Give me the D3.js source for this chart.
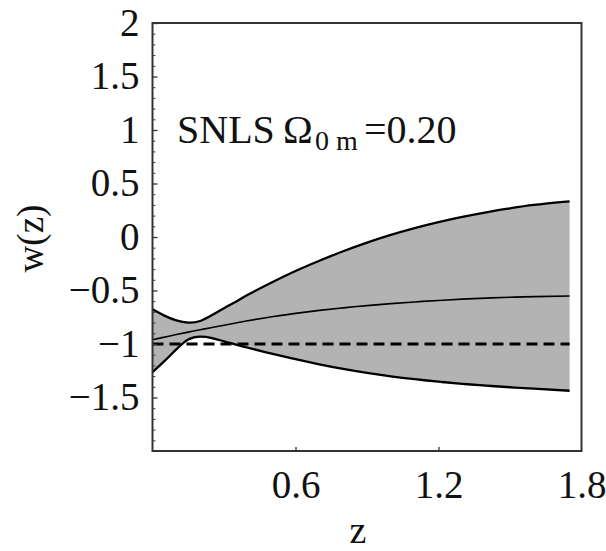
<!DOCTYPE html>
<html>
<head>
<meta charset="utf-8">
<script src="https://cdn.jsdelivr.net/npm/d3@7"></script>
<style>
  html, body { margin: 0; padding: 0; background: #fff; }
  svg { display: block; }
  text { font-family: "Liberation Serif", "Times New Roman", serif; fill: #111; }
</style>
</head>
<body>
<svg id="chart" width="606" height="551"></svg>
<script>
// ---- data ----
const zValues = [0, 0.05, 0.1, 0.15, 0.2, 0.25, 0.3, 0.35, 0.4, 0.5, 0.6, 0.7, 0.8, 0.9, 1.0, 1.1, 1.2, 1.3, 1.4, 1.5, 1.6, 1.75];
const wUpper  = [-0.676, -0.735, -0.78, -0.80, -0.785, -0.73, -0.665, -0.605, -0.54, -0.425, -0.318, -0.222, -0.133, -0.052, 0.020, 0.083, 0.139, 0.188, 0.231, 0.268, 0.300, 0.333];
const wBest   = [-0.960, -0.936, -0.912, -0.889, -0.867, -0.846, -0.825, -0.803, -0.782, -0.746, -0.714, -0.686, -0.662, -0.641, -0.623, -0.607, -0.593, -0.581, -0.571, -0.563, -0.557, -0.551];
const wLower  = [-1.262, -1.16, -1.05, -0.958, -0.932, -0.945, -0.975, -1.005, -1.035, -1.09, -1.142, -1.19, -1.233, -1.27, -1.302, -1.329, -1.352, -1.372, -1.389, -1.404, -1.418, -1.437];
const wLambda = -1;
const yTickValues = [-1.5, -1, -0.5, 0, 0.5, 1, 1.5, 2];
const xTickValues = [0.6, 1.2, 1.8];
const xDomain = [0, 1.8];
const yDomain = [-2, 2];
const labelTitle = "SNLS";
const labelOmega = "Ω";
const labelSub = "0 m";
const labelValue = "=0.20";
const xLabel = "z";
const yLabel = "w(z)";

// ---- layout ----
const svg = d3.select("#chart");
const L = 152.5, R = 581.5, T = 23, B = 451;
const x = d3.scaleLinear().domain(xDomain).range([L, R]);
const y = d3.scaleLinear().domain(yDomain).range([B, T]);

const rows = zValues.map((z, i) => ({ z, up: wUpper[i], mid: wBest[i], lo: wLower[i] }));
const curve = d3.curveNatural;

// band
svg.append("path")
  .datum(rows)
  .attr("fill", "#b3b3b3")
  .attr("d", d3.area().curve(curve).x(d => x(d.z)).y0(d => y(d.lo)).y1(d => y(d.up)));

// bounds
const lineGen = key => d3.line().curve(curve).x(d => x(d.z)).y(d => y(d[key]));
svg.append("path").datum(rows).attr("fill", "none").attr("stroke", "#000").attr("stroke-width", 2.3).attr("d", lineGen("up"));
svg.append("path").datum(rows).attr("fill", "none").attr("stroke", "#000").attr("stroke-width", 2.3).attr("d", lineGen("lo"));
svg.append("path").datum(rows).attr("fill", "none").attr("stroke", "#000").attr("stroke-width", 1.6).attr("d", lineGen("mid"));

// LCDM dashed line
svg.append("line")
  .attr("x1", x(zValues[0])).attr("x2", x(zValues[zValues.length - 1]))
  .attr("y1", y(wLambda)).attr("y2", y(wLambda))
  .attr("stroke", "#000").attr("stroke-width", 3).attr("stroke-dasharray", "11,6");

// axes
const fmt = d => (d < 0 ? "\u2212" : "") + Math.abs(d);
const yAxis = svg.append("g").attr("transform", `translate(${L},0)`)
  .call(d3.axisLeft(y).tickValues(yTickValues).tickFormat(fmt).tickSize(-5).tickPadding(13));
const minorVals = d3.range(-20, 21).map(v => v / 10).filter(v => Math.abs(v * 2 - Math.round(v * 2)) > 1e-6);
svg.append("g").attr("transform", `translate(${L},0)`)
  .call(d3.axisLeft(y).tickValues(minorVals).tickFormat("").tickSize(-3))
  .call(g => g.select(".domain").remove())
  .call(g => g.selectAll(".tick line").attr("stroke", "#444"));

const xAxis = svg.append("g").attr("transform", `translate(0,${B})`)
  .call(d3.axisBottom(x).tickValues(xTickValues).tickFormat(d => d.toFixed(1)).tickSize(-4).tickPadding(19));

[yAxis, xAxis].forEach(g => {
  g.select(".domain").remove();
  g.selectAll(".tick line").attr("stroke", "#333").attr("stroke-width", 1.3);
  g.selectAll("text").style("font-family", '"Liberation Serif", serif').style("font-size", "39px").attr("fill", "#111");
});
xAxis.selectAll(".tick").filter(d => d === 1.8).select("line").remove();

// frame
svg.append("rect")
  .attr("x", L).attr("y", T).attr("width", R - L).attr("height", B - T)
  .attr("fill", "none").attr("stroke", "#333").attr("stroke-width", 2);

// axis labels
svg.append("text")
  .attr("x", x(0.9) - 9).attr("y", 543)
  .attr("text-anchor", "middle")
  .style("font-size", "38px")
  .text(xLabel);
svg.append("text")
  .attr("transform", "translate(43,238.5) rotate(-90)")
  .attr("text-anchor", "middle")
  .style("font-size", "37px")
  .text(yLabel);

// annotation
const ann = svg.append("text").attr("y", 143).style("font-size", "40px");
ann.append("tspan").attr("x", 177).text(labelTitle);
ann.append("tspan").attr("x", 283).text(labelOmega);
ann.append("tspan").attr("x", 315).attr("y", 150).style("font-size", "28px").text(labelSub);
ann.append("tspan").attr("x", 364).attr("y", 143).text(labelValue);
</script>
</body>
</html>
